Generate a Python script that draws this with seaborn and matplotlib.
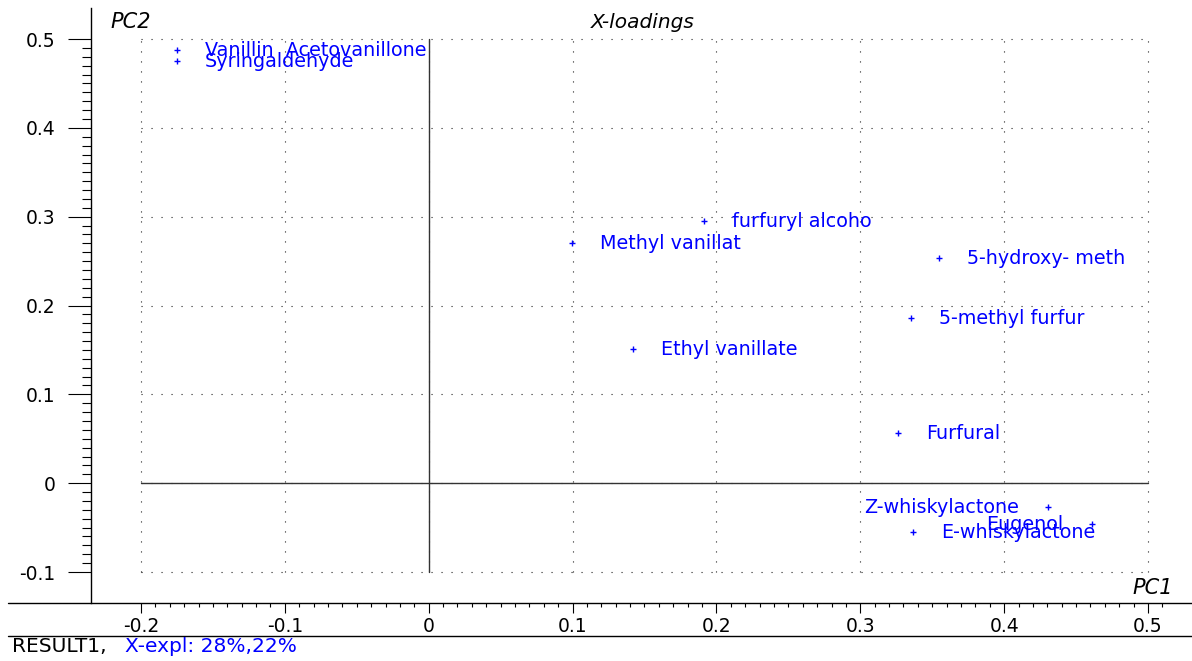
import numpy as np
import pandas as pd
import matplotlib
matplotlib.use("Agg")
import matplotlib.pyplot as plt
from matplotlib.lines import Line2D
from matplotlib.ticker import FixedLocator, FixedFormatter
import seaborn as sns

# ---- data ----
variables = ["Vanillin  Acetovanillone", "Syringaldehyde", "furfuryl alcoho",
             "Methyl vanillat", "Ethyl vanillate", "5-hydroxy- meth",
             "5-methyl furfur", "Furfural", "Z-whiskylactone", "Eugenol",
             "E-whiskylactone"]
pc1 = [-0.175, -0.175, 0.1914, 0.0994, 0.1422, 0.3549, 0.3350, 0.3264, 0.4307, 0.4609, 0.3369]
pc2 = [0.488, 0.475, 0.2952, 0.270, 0.1507, 0.2532, 0.1856, 0.0562, -0.0265, -0.0463, -0.0546]
label_side = ["right", "right", "right", "right", "right", "right",
              "right", "right", "left", "left", "right"]
x_ticks = [-0.2, -0.1, 0.0, 0.1, 0.2, 0.3, 0.4, 0.5]
x_tick_labels = ["-0.2", "-0.1", "0", "0.1", "0.2", "0.3", "0.4", "0.5"]
y_ticks = [-0.1, 0.0, 0.1, 0.2, 0.3, 0.4, 0.5]
y_tick_labels = ["-0.1", "0", "0.1", "0.2", "0.3", "0.4", "0.5"]

df = pd.DataFrame({"variable": variables, "PC1": pc1, "PC2": pc2, "side": label_side})

sns.set_theme(style="white")
plt.rcParams["font.family"] = ["DejaVu Sans"]

W, H = 1192, 661
fig = plt.figure(figsize=(W / 100, H / 100), dpi=100)
ax = fig.add_axes([91 / W, 1 - 603 / H, 1 - 91 / W, (603 - 8) / H])

# axis limits from pixel calibration
xs = 1438.6; x0 = 428.7
ys = 888.3; y0 = 483.2
ax.set_xlim((91 - x0) / xs, (W - x0) / xs)
ax.set_ylim((y0 - 603) / ys, (y0 - 8) / ys)

# dotted grid, bounded
gx0, gx1 = min(x_ticks), max(x_ticks)
gy0, gy1 = min(y_ticks), max(y_ticks)
ax.hlines(y_ticks, gx0, gx1, colors="#222222", linewidth=0.8, linestyles=[(0, (1, 8))])
ax.vlines(x_ticks, gy0, gy1, colors="#222222", linewidth=0.8, linestyles=[(0, (1, 8))])

# zero lines
ax.plot([0, 0], [gy0, gy1], color="#333333", lw=1.0)
ax.plot([gx0, gx1], [0, 0], color="#333333", lw=1.0)

# points
sns.scatterplot(data=df, x="PC1", y="PC2", marker="+", color="#0000FF",
                s=14, linewidth=1.0, ax=ax, legend=False, zorder=3)

for _, r in df.iterrows():
    if r["side"] == "right":
        ax.annotate(r["variable"], (r["PC1"], r["PC2"]), xytext=(28, -6),
                    textcoords="offset pixels", ha="left", va="baseline",
                    color="#0000FF", fontsize=13.8)
    else:
        ax.annotate(r["variable"], (r["PC1"], r["PC2"]), xytext=(-29, -6),
                    textcoords="offset pixels", ha="right", va="baseline",
                    color="#0000FF", fontsize=13.8)

# spines
for s in ["top", "right", "bottom"]:
    ax.spines[s].set_visible(False)
ax.spines["left"].set_color("black")
ax.spines["left"].set_linewidth(1.0)
fig.add_artist(Line2D([8 / W, 1], [1 - 603 / H, 1 - 603 / H], color="black", lw=1.0,
                      transform=fig.transFigure))
fig.add_artist(Line2D([8 / W, 1], [1 - 636 / H, 1 - 636 / H], color="black", lw=1.0,
                      transform=fig.transFigure))

# ticks
ax.xaxis.set_major_locator(FixedLocator(x_ticks))
ax.xaxis.set_major_formatter(FixedFormatter(x_tick_labels))
ax.yaxis.set_major_locator(FixedLocator(y_ticks))
ax.yaxis.set_major_formatter(FixedFormatter(y_tick_labels))
ax.xaxis.set_minor_locator(FixedLocator(np.round(np.arange(-0.2, 0.515, 0.01), 2)))
ax.yaxis.set_minor_locator(FixedLocator(np.round(np.arange(-0.1, 0.505, 0.01), 2)))
ax.tick_params(axis="x", which="major", direction="out", length=7.2, width=0.8,
               color="black", pad=3, labelsize=13.5, labelcolor="black", bottom=True)
ax.tick_params(axis="x", which="minor", direction="out", length=3, width=0.8,
               color="black", bottom=True)
ax.tick_params(axis="y", which="major", direction="out", length=16.5, width=0.8,
               color="black", pad=9, labelsize=13.5, labelcolor="black", left=True)
ax.tick_params(axis="y", which="minor", direction="out", length=6.5, width=0.8,
               color="black", left=True)
ax.set_xlabel("")
ax.set_ylabel("")
ax.grid(False)

# texts
ax.text(0.501, 0.975, "X-loadings", transform=ax.transAxes, ha="center", va="center",
        fontsize=14.5, style="italic", color="black")
ax.text(19 / 1101, 0.976, "PC2", transform=ax.transAxes, ha="left", va="center",
        fontsize=15, style="italic", color="black")
ax.text((1173 - 91) / 1101, 0.0252, "PC1", transform=ax.transAxes, ha="right",
        va="center", fontsize=15, style="italic", color="black")

fig.text(12 / W, 1 - 647 / H, "RESULT1,", ha="left", va="center", fontsize=14.5, color="black")
fig.text(125 / W, 1 - 647 / H, "X-expl: 28%,22%", ha="left", va="center", fontsize=14.5,
         color="#0000FF")

fig.savefig("out.png", dpi=100)
